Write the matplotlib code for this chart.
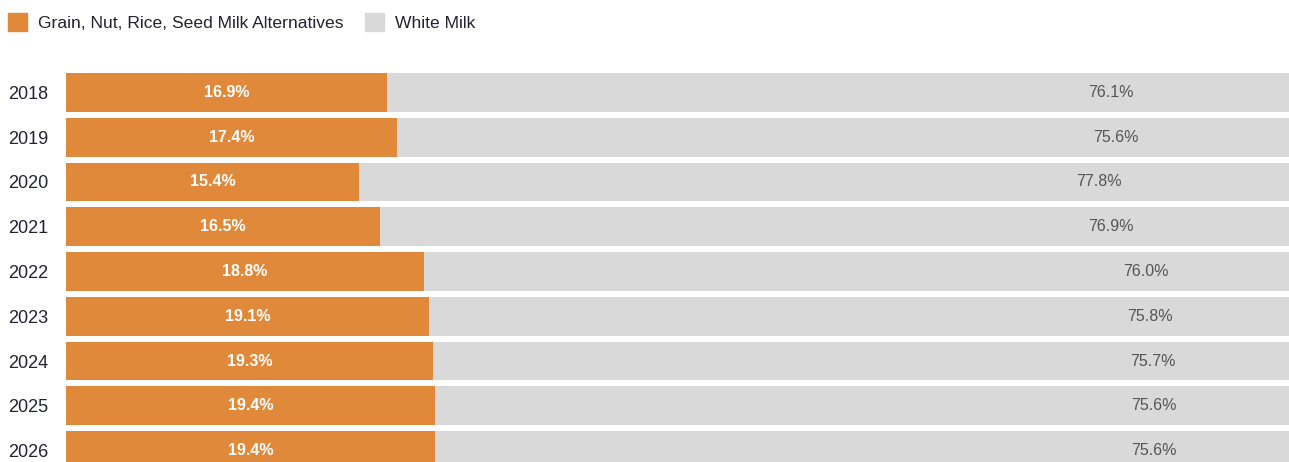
import matplotlib
matplotlib.use("Agg")
import matplotlib.pyplot as plt
from matplotlib.patches import Patch

years = ["2018", "2019", "2020", "2021", "2022", "2023", "2024", "2025", "2026"]
alt_milk = [16.9, 17.4, 15.4, 16.5, 18.8, 19.1, 19.3, 19.4, 19.4]
white_milk = [76.1, 75.6, 77.8, 76.9, 76.0, 75.8, 75.7, 75.6, 75.6]

orange = "#e0893a"
grey = "#d9d9d9"

plt.rcParams["font.family"] = ["Liberation Sans", "DejaVu Sans"]

fig = plt.figure(figsize=(12.89, 4.62), dpi=100)
ax = fig.add_axes([66 / 1289, 0, 1223 / 1289, 389 / 462])

pos = list(range(len(years)))
h = 0.865
ax.barh(pos, alt_milk, height=h, color=orange)
ax.barh(pos, white_milk, left=alt_milk, height=h, color=grey)

for i in pos:
    ax.text(alt_milk[i] / 2, i, f"{alt_milk[i]:.1f}%", ha="center", va="center",
            color="white", fontsize=11.5, fontweight="bold")
    ax.text(alt_milk[i] + white_milk[i] / 2, i, f"{white_milk[i]:.1f}%",
            ha="center", va="center", color="#555555", fontsize=11.5)

ax.set_xlim(0, 64.3)
ax.set_ylim(8.255, -0.4325)
ax.set_yticks(pos)
ax.set_yticklabels(years, fontsize=13, color="#22232e", ha="left")
ax.tick_params(axis="y", length=0, pad=41.5)
ax.set_xticks([])
for s in ax.spines.values():
    s.set_visible(False)

handles = [Patch(color=orange), Patch(color=grey)]
fig.legend(handles, ["Grain, Nut, Rice, Seed Milk Alternatives", "White Milk"],
           loc="upper left", bbox_to_anchor=(0.0, 0.989), ncol=2, frameon=False,
           fontsize=12.6, handlelength=1.1, handleheight=1.2, handletextpad=0.63,
           columnspacing=1.2, borderaxespad=0.05, labelcolor="#22232e")

fig.savefig("out.png", dpi=100)
